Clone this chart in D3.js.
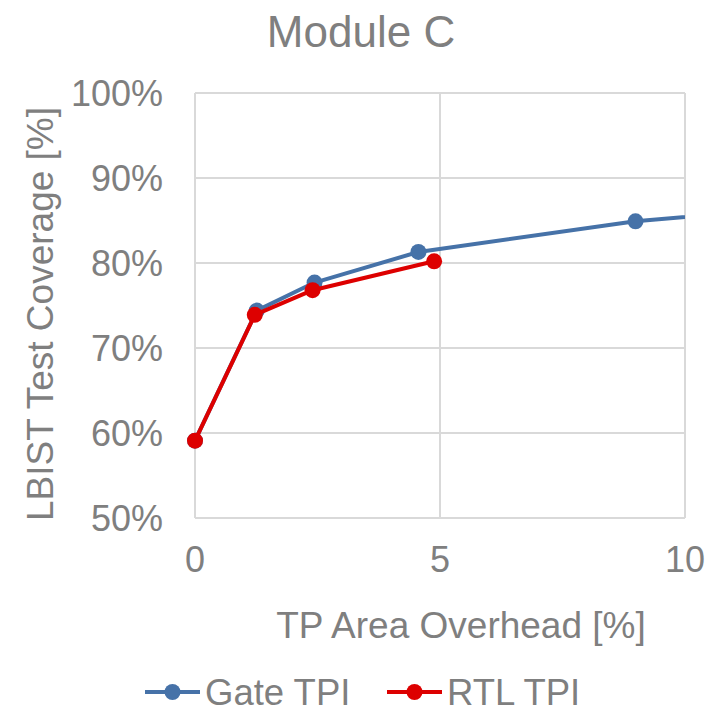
<!DOCTYPE html>
<html lang="en">
<head>
    <meta charset="UTF-8">
    <title>Module C</title>
    <script src="https://d3js.org/d3.v7.min.js"></script>
    <style>
        body { margin: 0; background: #fff; }
        text { font-family: "Liberation Sans", Arial, sans-serif; fill: #7f7f7f; }
        .grid line { stroke: #d9d9d9; stroke-width: 2px; }
    </style>
</head>
<body>
    <svg width="715" height="712"></svg>
    <script>
        // data
        const gateX = [0, 1.26, 2.44, 4.56, 8.99, 12];
        const gateY = [59.1, 74.4, 77.7, 81.3, 84.9, 86.4];
        const rtlX = [0, 1.22, 2.40, 4.88];
        const rtlY = [59.1, 73.9, 76.8, 80.2];
        const xTicks = [0, 5, 10];
        const yTicks = [50, 60, 70, 80, 90, 100];
        const seriesNames = ["Gate TPI", "RTL TPI"];
        const seriesColors = ["#4672a8", "#dd0000"];

        const svg = d3.select("svg");
        const pLeft = 195, pRight = 685, pTop = 93, pBottom = 518;

        const x = d3.scaleLinear().domain([0, 10]).range([pLeft, pRight]);
        const y = d3.scaleLinear().domain([50, 100]).range([pBottom, pTop]);

        // gridlines
        const grid = svg.append("g").attr("class", "grid");
        grid.selectAll("line.h")
            .data(yTicks)
            .enter().append("line")
            .attr("x1", pLeft).attr("x2", pRight)
            .attr("y1", d => y(d)).attr("y2", d => y(d));
        grid.selectAll("line.v")
            .data(xTicks)
            .enter().append("line")
            .attr("y1", pTop).attr("y2", pBottom)
            .attr("x1", d => x(d)).attr("x2", d => x(d));

        // tick labels
        svg.append("g").selectAll("text")
            .data(yTicks)
            .enter().append("text")
            .attr("x", 163)
            .attr("y", d => y(d))
            .attr("dy", "0.36em")
            .attr("text-anchor", "end")
            .style("font-size", "36px")
            .text(d => d + "%");

        svg.append("g").selectAll("text")
            .data(xTicks)
            .enter().append("text")
            .attr("x", d => x(d))
            .attr("y", 572)
            .attr("text-anchor", "middle")
            .style("font-size", "36px")
            .text(d => d);

        // titles
        svg.append("text")
            .attr("x", 361).attr("y", 47)
            .attr("text-anchor", "middle")
            .style("font-size", "44px")
            .text("Module C");

        svg.append("text")
            .attr("x", 461).attr("y", 638)
            .attr("text-anchor", "middle")
            .style("font-size", "37px")
            .text("TP Area Overhead [%]");

        svg.append("text")
            .attr("transform", "translate(53,314) rotate(-90)")
            .attr("text-anchor", "middle")
            .style("font-size", "37px")
            .text("LBIST Test Coverage [%]");

        // series
        svg.append("clipPath").attr("id", "plot")
            .append("rect")
            .attr("x", pLeft - 10).attr("y", pTop - 10)
            .attr("width", pRight - pLeft + 10).attr("height", pBottom - pTop + 20);

        const line = d3.line().x(d => x(d[0])).y(d => y(d[1]));
        const series = [
            d3.zip(gateX, gateY),
            d3.zip(rtlX, rtlY)
        ];

        const plot = svg.append("g").attr("clip-path", "url(#plot)");
        series.forEach((pts, i) => {
            plot.append("path")
                .datum(pts)
                .attr("fill", "none")
                .attr("stroke", seriesColors[i])
                .attr("stroke-width", 4)
                .attr("stroke-linejoin", "round")
                .attr("d", line);
            plot.selectAll("circle.s" + i)
                .data(pts.filter(p => p[0] <= 10))
                .enter().append("circle")
                .attr("cx", d => x(d[0]))
                .attr("cy", d => y(d[1]))
                .attr("r", 8)
                .attr("fill", seriesColors[i]);
        });

        // legend
        const legX = [145, 387];
        const legend = svg.append("g");
        seriesNames.forEach((name, i) => {
            legend.append("line")
                .attr("x1", legX[i]).attr("x2", legX[i] + 55)
                .attr("y1", 692).attr("y2", 692)
                .attr("stroke", seriesColors[i])
                .attr("stroke-width", 4);
            legend.append("circle")
                .attr("cx", legX[i] + 27.5).attr("cy", 692)
                .attr("r", 8)
                .attr("fill", seriesColors[i]);
            legend.append("text")
                .attr("x", legX[i] + 60).attr("y", 705)
                .style("font-size", "36.5px")
                .text(name);
        });
    </script>
</body>
</html>
